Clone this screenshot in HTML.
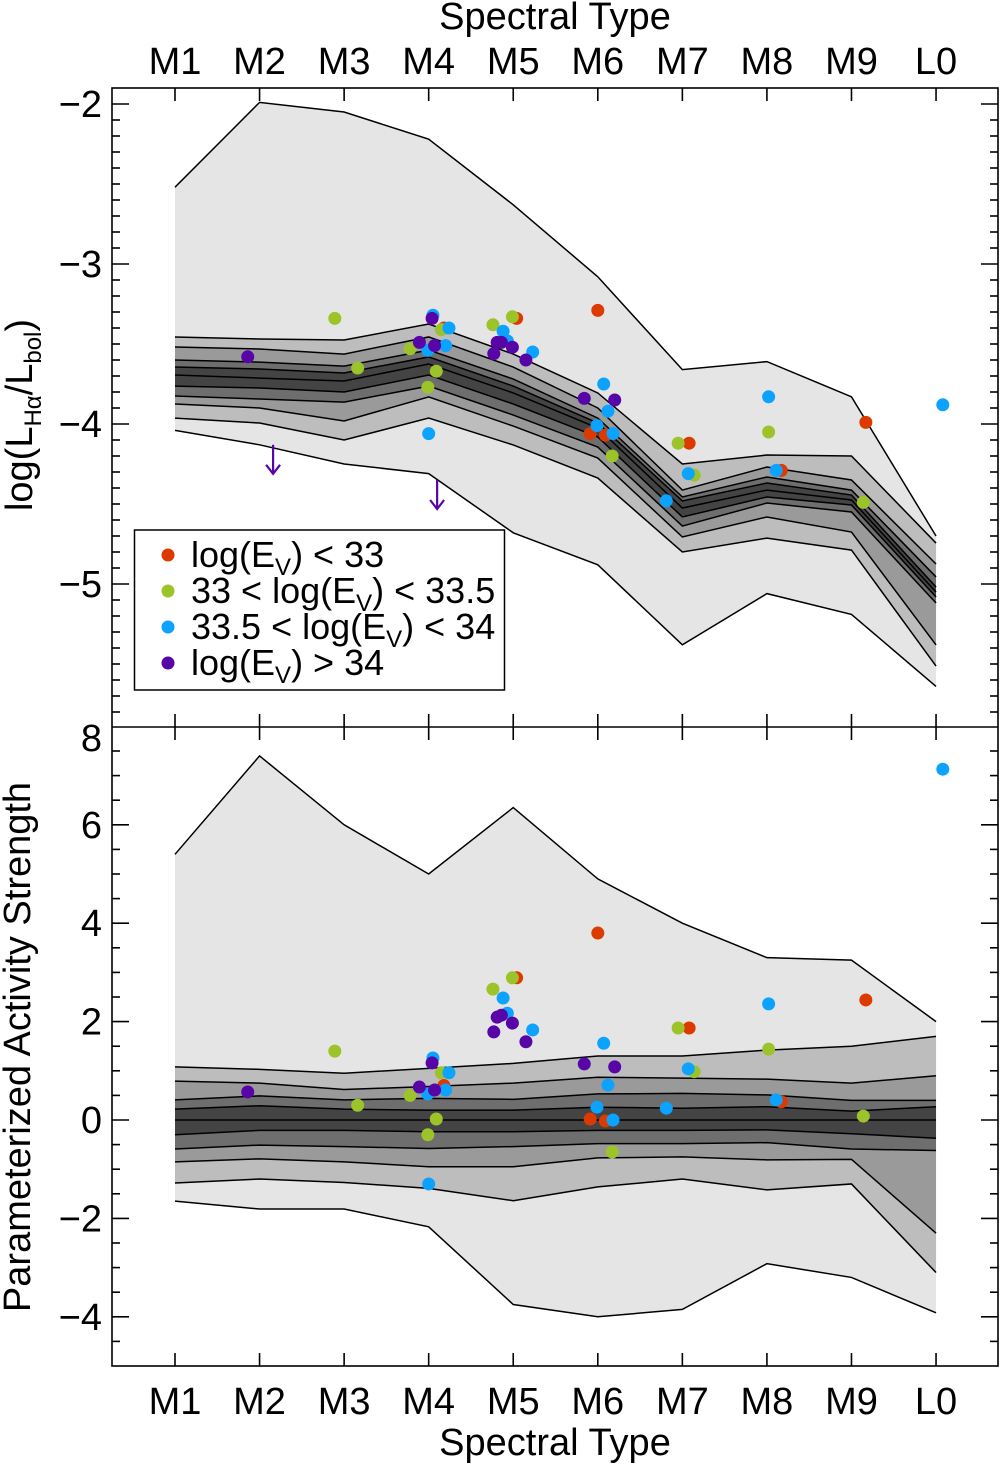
<!DOCTYPE html>
<html><head><meta charset="utf-8"><style>
html,body{margin:0;padding:0;background:#fff;}
svg{display:block;font-family:"Liberation Sans",Arial,sans-serif;}
</style></head><body>
<svg id="chart" width="1000" height="1463" viewBox="0 0 1000 1463" xmlns="http://www.w3.org/2000/svg"></svg>
<script>
// ---- data ----
const types = ['M1','M2','M3','M4','M5','M6','M7','M8','M9','L0'];
// Top panel envelopes (log LHa/Lbol)
const topOuterHi = [-2.52,-1.99,-2.05,-2.22,-2.63,-3.08,-3.66,-3.61,-3.83,-4.70];
const topOuterLo = [-4.04,-4.13,-4.25,-4.31,-4.68,-4.88,-5.38,-5.06,-5.19,-5.64];
const topL1 = [-3.456,-3.469,-3.475,-3.375,-3.563,-3.806,-4.25,-4.194,-4.2,-4.744];
const topL2 = [-3.519,-3.531,-3.563,-3.456,-3.644,-3.9,-4.413,-4.269,-4.35,-4.875];
const topL3 = [-3.6,-3.613,-3.638,-3.538,-3.719,-3.963,-4.456,-4.331,-4.413,-4.956];
const topL4 = [-3.644,-3.656,-3.681,-3.581,-3.763,-3.994,-4.481,-4.369,-4.444,-5.019];
const topL5 = [-3.694,-3.713,-3.731,-3.625,-3.806,-4.025,-4.525,-4.413,-4.475,-5.05];
const topL6 = [-3.763,-3.775,-3.8,-3.694,-3.875,-4.081,-4.581,-4.456,-4.506,-5.081];
const topL7 = [-3.825,-3.844,-3.863,-3.763,-3.944,-4.144,-4.638,-4.494,-4.55,-5.119];
const topL8 = [-3.875,-3.9,-3.981,-3.831,-4.013,-4.213,-4.706,-4.581,-4.675,-5.381];
const topL9 = [-3.963,-3.994,-4.1,-3.963,-4.131,-4.338,-4.8,-4.713,-4.788,-5.513];
// Bottom panel envelopes (activity strength)
const botOuterHi = [5.4,7.4,6.0,5.0,6.35,4.9,4.0,3.3,3.25,2.0];
const botOuterLo = [-1.65,-1.81,-1.81,-2.17,-3.75,-4.0,-3.85,-2.92,-3.2,-3.92];
const botL1 = [1.08,1.03,0.95,1.05,1.15,1.3,1.3,1.42,1.5,1.7];
const botL2 = [0.79,0.75,0.62,0.68,0.75,0.87,0.85,0.83,0.75,0.9];
const botL3 = [0.41,0.49,0.41,0.44,0.42,0.53,0.54,0.51,0.4,0.4];
const botL4 = [0.22,0.29,0.22,0.2,0.2,0.26,0.24,0.27,0.18,0.27];
const botL5 = [0,0,0,0,0,0,0,0,0,0];
const botL6 = [-0.3,-0.21,-0.21,-0.24,-0.24,-0.21,-0.21,-0.2,-0.28,-0.37];
const botL7 = [-0.59,-0.51,-0.54,-0.58,-0.54,-0.48,-0.48,-0.46,-0.59,-0.62];
const botL8 = [-0.85,-0.79,-0.85,-0.95,-0.95,-0.77,-0.75,-0.81,-0.8,-2.3];
const botL9 = [-1.28,-1.2,-1.27,-1.39,-1.64,-1.36,-1.2,-1.42,-1.3,-3.1];
// Points: spectral type (continuous), top value, bottom value
const redT = [5.04,6.0,5.91,6.09,7.08,8.17,9.17,4.18];
const redTop = [-3.34,-3.29,-4.06,-4.07,-4.12,-4.29,-3.99,-3.4];
const redBot = [2.89,3.8,0.02,-0.02,1.87,0.37,2.44,0.7];
const greenT = [2.89,3.16,3.78,3.99,4.09,4.15,4.76,4.99,6.17,6.95,7.14,8.02,9.14];
const greenTop = [-3.34,-3.65,-3.53,-3.77,-3.67,-3.41,-3.38,-3.33,-4.2,-4.12,-4.32,-4.05,-4.49];
const greenBot = [1.4,0.3,0.5,-0.3,0.02,0.96,2.66,2.89,-0.65,1.87,0.98,1.44,0.08];
const blueT = [4.05,3.99,4.24,4.2,4.0,4.88,4.93,5.23,6.07,6.12,5.99,6.18,6.81,7.07,8.02,8.11,10.08];
const blueTop = [-3.32,-3.54,-3.4,-3.51,-4.06,-3.42,-3.48,-3.55,-3.75,-3.92,-4.01,-4.06,-4.48,-4.31,-3.83,-4.29,-3.88];
const blueBot = [1.26,0.53,0.96,0.61,-1.3,2.48,2.17,1.83,1.56,0.71,0.26,0,0.24,1.04,2.36,0.41,7.13];
const purpleT = [1.86,3.89,4.04,4.07,4.81,4.77,4.99,5.15,5.84,6.2,4.86];
const purpleTop = [-3.58,-3.49,-3.34,-3.51,-3.49,-3.56,-3.52,-3.6,-3.84,-3.85,-3.49];
const purpleBot = [0.57,0.67,1.16,0.61,2.09,1.79,1.97,1.59,1.14,1.08,2.13];
const limitT = [2.16,4.1];
const limitTop = [-4.13,-4.35];
const topTicks = [-2,-3,-4,-5];
const botTicks = [8,6,4,2,0,-2,-4];

// ---- axes ----
const L=112,R=998,T=88,MID=727,B=1366;
const xs = t => 175 + (t-1)*84.56;
const yTop = v => 104 - (v+2)*160;
const yBot = v => 1120 - v*49.2;
const NS='http://www.w3.org/2000/svg';
const svg=document.getElementById('chart');
function mk(tag,attrs,parent){const e=document.createElementNS(NS,tag);for(const k in attrs)e.setAttribute(k,attrs[k]);(parent||svg).appendChild(e);return e;}

function band(hi,lo,yf,fill,name){
  let d='M'+hi.map((v,i)=>xs(i+1)+','+yf(v)).join('L');
  d+='L'+lo.map((v,i)=>xs(i+1)+','+yf(v)).reverse().join('L')+'Z';
  const p=mk('path',{d:d,fill:fill,stroke:'none'});
  
  
}
function line(arr,yf,name){
  const p=mk('polyline',{points:arr.map((v,i)=>xs(i+1)+','+yf(v)).join(' '),fill:'none',stroke:'#000','stroke-width':1.5});
  
  
}
const fills=['#e5e5e5','#bdbdbd','#9a9a9a','#6e6e6e','#444','#444','#6e6e6e','#9a9a9a','#bdbdbd','#e5e5e5'];
function panel(lines,yf,prefix){
  for(let i=0;i<lines.length-1;i++) band(lines[i],lines[i+1],yf,fills[i],prefix+'-band-'+i);
  lines.forEach((a,i)=>line(a,yf,prefix+'-contour-'+i));
}
panel([topOuterHi,topL1,topL2,topL3,topL4,topL5,topL6,topL7,topL8,topL9,topOuterLo],yTop,'top');
panel([botOuterHi,botL1,botL2,botL3,botL4,botL5,botL6,botL7,botL8,botL9,botOuterLo],yBot,'bottom');

const colors={red:'#dd3a00',green:'#9cc32a',blue:'#0ca2ff',purple:'#5805a8'};
function pts(ts,vals,yf,col,name){
  ts.forEach((t,i)=>{
    const c=mk('circle',{cx:xs(t),cy:yf(vals[i]),r:6.5,fill:colors[col]});
    
    
  });
}
pts(redT,redTop,yTop,'red','point-red');pts(greenT,greenTop,yTop,'green','point-green');
pts(blueT,blueTop,yTop,'blue','point-blue');pts(purpleT,purpleTop,yTop,'purple','point-purple');
pts(redT,redBot,yBot,'red','point-red');pts(greenT,greenBot,yBot,'green','point-green');
pts(blueT,blueBot,yBot,'blue','point-blue');pts(purpleT,purpleBot,yBot,'purple','point-purple');
limitT.forEach((t,i)=>{
  const x=xs(t),y=yTop(limitTop[i]);
  const g=mk('g',{stroke:colors.purple,'stroke-width':2.2,fill:'none'});
  
  
  mk('line',{x1:x,y1:y,x2:x,y2:y+28},g);
  mk('polyline',{points:(x-7)+','+(y+20)+' '+x+','+(y+29)+' '+(x+7)+','+(y+20)},g);
});

// frame & ticks
const ax=mk('g',{stroke:'#000','stroke-width':1.6,fill:'none'});


mk('rect',{x:L,y:T,width:R-L,height:B-T},ax);
mk('line',{x1:L,y1:MID,x2:R,y2:MID},ax);
for(let i=1;i<=10;i++){const x=xs(i);
  mk('line',{x1:x,y1:T,x2:x,y2:T+13},ax);
  mk('line',{x1:x,y1:MID-13,x2:x,y2:MID+13},ax);
  mk('line',{x1:x,y1:B,x2:x,y2:B-13},ax);}
for(let k=-59;k<=-19;k++){const v=k/10,y=yTop(v);if(y<T||y>MID)continue;
  const len=(k%10===0)?17:8;
  mk('line',{x1:L,y1:y,x2:L+len,y2:y},ax);mk('line',{x1:R,y1:y,x2:R-len,y2:y},ax);}
for(let k=-9;k<=16;k++){const v=k/2,y=yBot(v);if(y<MID||y>B)continue;
  const len=(k%4===0)?17:8;
  mk('line',{x1:L,y1:y,x2:L+len,y2:y},ax);mk('line',{x1:R,y1:y,x2:R-len,y2:y},ax);}

function txt(s,x,y,attrs,name){const e=mk('text',Object.assign({x:x,y:y,'font-size':38,fill:'#000'},attrs||{}));e.textContent=s;
  return e;}
types.forEach((s,i)=>{txt(s,xs(i+1),74,{'text-anchor':'middle'},'top-x-tick-label');
  txt(s,xs(i+1),1414,{'text-anchor':'middle'},'bottom-x-tick-label');});
txt('Spectral Type',555,29,{'text-anchor':'middle'},'top-x-axis-title');
txt('Spectral Type',555,1455,{'text-anchor':'middle'},'bottom-x-axis-title');
topTicks.forEach(v=>txt('\u2212'+Math.abs(v),102,yTop(v)+13,{'text-anchor':'end'},'top-y-tick-label'));
botTicks.forEach(v=>{
  txt((v<0?'\u2212':'')+Math.abs(v),102,(v===8?738:yBot(v))+13,{'text-anchor':'end'},'bottom-y-tick-label');});
const yt=mk('text',{transform:'translate(32,415) rotate(-90)','text-anchor':'middle','font-size':38});

yt.innerHTML='log(L<tspan font-size="24" dy="9">H\u03b1</tspan><tspan dy="-9">/L</tspan><tspan font-size="24" dy="9">bol</tspan><tspan dy="-9">)</tspan>';
txt('Parameterized Activity Strength',0,0,{transform:'translate(30,1047) rotate(-90)','text-anchor':'middle'},'bottom-y-axis-title');

// legend
const lg=mk('g',{});

mk('rect',{x:134.5,y:530,width:370,height:160,fill:'#fff',stroke:'#000','stroke-width':1.5},lg);
const legCols=['red','green','blue','purple'];
const legPre=['log(E','33 < log(E','33.5 < log(E','log(E'];
const legPost=[') < 33',') < 33.5',') < 34',') > 34'];
legCols.forEach((c,i)=>{const y=555+i*36;
  const d=mk('circle',{cx:168,cy:y,r:6.5,fill:colors[c]},lg);
  
  const t=mk('text',{x:191,y:y+12,'font-size':36},lg);
  
  t.innerHTML=legPre[i]+'<tspan font-size="24" dy="8">V</tspan><tspan dy="-8">'+legPost[i]+'</tspan>';
});
</script>
</body></html>
